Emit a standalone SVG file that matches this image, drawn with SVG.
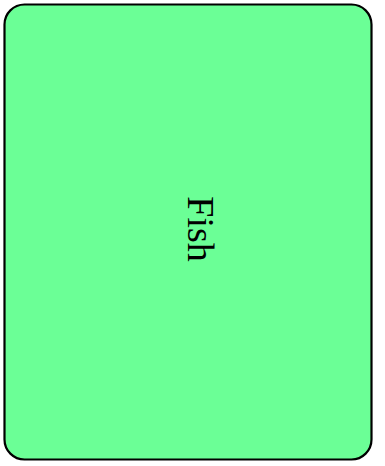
<svg xmlns="http://www.w3.org/2000/svg" width="385" height="466" viewBox="0 0 385 466">
<style>
.node{fill:#6bff96;stroke:#000;stroke-width:2.2}
.lbl{font-family:"Liberation Serif","DejaVu Serif",serif;font-size:38px;fill:#000}
</style>
<g id="connectors"></g>
<g id="fish">
<rect class="node" x="4.5" y="4.5" width="367" height="455" rx="20" ry="20"/>
<text class="lbl" text-anchor="middle" transform="translate(188,229) rotate(90)">Fish</text>
</g>
</svg>
